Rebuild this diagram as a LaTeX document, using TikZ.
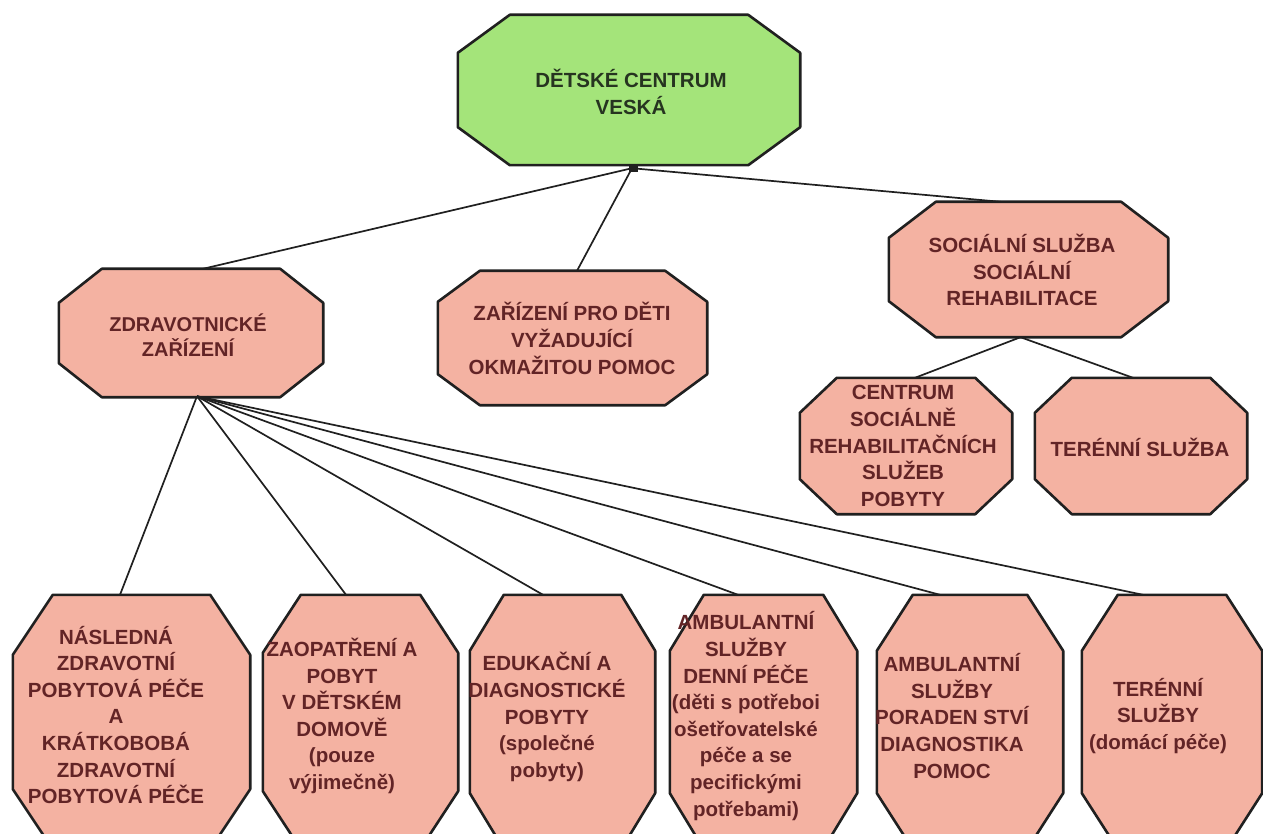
\documentclass[tikz,border=0pt]{standalone}
\usepackage{fontspec}
\setmainfont{Liberation Sans}
\pgfdeclarelayer{bg}
\pgfsetlayers{bg,main}
\definecolor{pinkfill}{RGB}{244,178,162}
\definecolor{greenfill}{RGB}{164,228,122}
\definecolor{txtred}{RGB}{98,36,38}
\definecolor{txtgreen}{RGB}{38,52,32}
\definecolor{edgeclr}{RGB}{32,32,32}
% #1 node name, #2 chamfer x, #3 chamfer y, #4 fill colour
\newcommand\octo[4]{%
  \begin{pgfonlayer}{bg}
  \draw[line width=2.6pt, draw=edgeclr, fill=#4, line join=round]
    ([xshift=#2]#1.north west) -- ([xshift=-#2]#1.north east)
    -- ([yshift=-#3]#1.north east) -- ([yshift=#3]#1.south east)
    -- ([xshift=-#2]#1.south east) -- ([xshift=#2]#1.south west)
    -- ([yshift=#3]#1.south west) -- ([yshift=-#3]#1.north west) -- cycle;
  \end{pgfonlayer}}
\begin{document}
\begin{tikzpicture}[x=1pt,y=-1pt,
  bx/.style 2 args={rectangle, draw=none, inner sep=0pt, minimum width=#1, minimum height=#2},
  lbl/.style={align=center, inner sep=0pt, text=txtred, font=\bfseries\fontsize{20.5}{26.6}\selectfont},
  conn/.style={draw=edgeclr, line width=1.7pt}]
\useasboundingbox (0,0) rectangle (1263,834);
\begin{pgfonlayer}{bg}
\fill[white] (0,0) rectangle (1263,834);
\end{pgfonlayer}

% boxes
\node[bx={342}{150}] (top) at (629,90) {};
\octo{top}{52pt}{38pt}{greenfill}
\node[bx={264}{128}] (zdr) at (191,333) {};
\octo{zdr}{43pt}{34pt}{pinkfill}
\node[bx={269}{134}] (zar) at (572.5,338) {};
\octo{zar}{42pt}{31pt}{pinkfill}
\node[bx={279}{135}] (soc) at (1028.5,269.5) {};
\octo{soc}{47pt}{36pt}{pinkfill}
\node[bx={212}{136}] (cen) at (906,446) {};
\octo{cen}{37pt}{35pt}{pinkfill}
\node[bx={212}{136}] (ter) at (1141,446) {};
\octo{ter}{37pt}{35pt}{pinkfill}

\node[bx={237}{254}] (b1) at (131.5,722) {};
\octo{b1}{40pt}{60pt}{pinkfill}
\node[bx={195}{254}] (b2) at (360.5,722) {};
\octo{b2}{38pt}{58pt}{pinkfill}
\node[bx={185}{254}] (b3) at (562.5,722) {};
\octo{b3}{34pt}{56pt}{pinkfill}
\node[bx={187}{254}] (b4) at (763.5,722) {};
\octo{b4}{34pt}{56pt}{pinkfill}
\node[bx={186}{254}] (b5) at (970,722) {};
\octo{b5}{36pt}{56pt}{pinkfill}
\node[bx={180}{254}] (b6) at (1172,722) {};
\octo{b6}{36pt}{56pt}{pinkfill}

% labels
\node[lbl, text=txtgreen] (ttop) at (631,92) {DĚTSKÉ CENTRUM\\VESKÁ};
\node[lbl, font=\bfseries\fontsize{20}{25.5}\selectfont] (tzdr) at (188,335) {ZDRAVOTNICKÉ\\ZAŘÍZENÍ};
\node[lbl] (tzar) at (572,338.5) {ZAŘÍZENÍ PRO DĚTI\\VYŽADUJÍCÍ\\OKMAŽITOU POMOC};
\node[lbl] (tsoc) at (1022,270) {SOCIÁLNÍ SLUŽBA\\SOCIÁLNÍ\\REHABILITACE};
\node[lbl] (tcen) at (903,446) {CENTRUM\\SOCIÁLNĚ\\REHABILITAČNÍCH\\SLUŽEB\\POBYTY};
\node[lbl] (tter) at (1140,447) {TERÉNNÍ SLUŽBA};

\node[lbl] (tb1) at (116,715) {NÁSLEDNÁ\\ZDRAVOTNÍ\\POBYTOVÁ PÉČE\\A\\KRÁTKOBOBÁ\\ZDRAVOTNÍ\\POBYTOVÁ PÉČE};
\node[lbl] (tb2) at (342,716) {ZAOPATŘENÍ A\\POBYT\\V DĚTSKÉM\\DOMOVĚ\\(pouze\\výjimečně)};
\node[lbl] (tb3) at (547,717) {EDUKAČNÍ A\\DIAGNOSTICKÉ\\POBYTY\\(společné\\pobyty)};
\node[lbl] (tb4) at (746,716) {AMBULANTNÍ\\SLUŽBY\\DENNÍ PÉČE\\(děti s potřeboi\\ošetřovatelské\\péče a se\\pecifickými\\potřebami)};
\node[lbl] (tb5) at (952,716) {AMBULANTNÍ\\SLUŽBY\\PORADEN STVÍ\\DIAGNOSTIKA\\POMOC};
\node[lbl] (tb6) at (1158,716) {TERÉNNÍ\\SLUŽBY\\(domácí péče)};

% connectors
\coordinate (tophub) at ([xshift=3pt,yshift=-3pt]top.south);
\draw[conn] (tophub) -- ([xshift=12pt]zdr.north);
\draw[conn] (tophub) -- ([xshift=4.5pt]zar.north);
\draw[conn] (tophub) -- ([xshift=-28pt]soc.north);
\fill[edgeclr] ([xshift=0pt,yshift=-1pt]top.south) rectangle ++(9,6);

\coordinate (sochub) at ([xshift=-8pt]soc.south);
\draw[conn] (sochub) -- ([xshift=9pt]cen.north);
\draw[conn] (sochub) -- ([xshift=-8pt]ter.north);

\coordinate (hub) at ([xshift=6pt,yshift=1pt]zdr.south);
\draw[conn] (hub) -- ([xshift=-11.5pt]b1.north);
\draw[conn] (hub) -- ([xshift=-14.5pt]b2.north);
\draw[conn] (hub) -- ([xshift=-19.5pt]b3.north);
\draw[conn] (hub) -- ([xshift=-25.5pt]b4.north);
\draw[conn] (hub) -- ([xshift=-30pt]b5.north);
\draw[conn] (hub) -- ([xshift=-29pt]b6.north);
\end{tikzpicture}
\end{document}
